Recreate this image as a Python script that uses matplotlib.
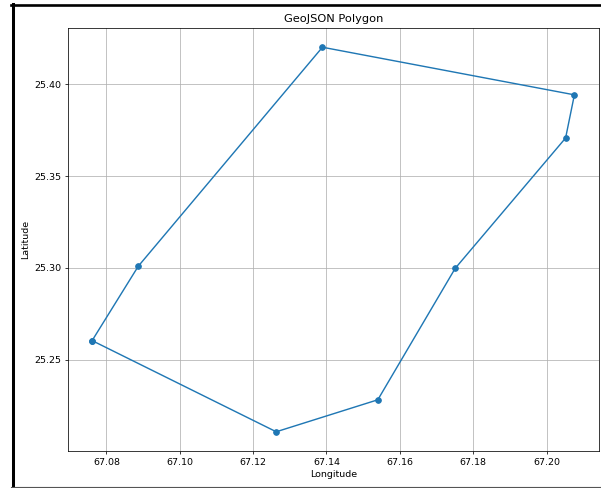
import matplotlib
matplotlib.use("Agg")
import matplotlib.pyplot as plt
from matplotlib.lines import Line2D

# polygon vertices (closed ring)
lon = [67.0761, 67.0887, 67.1389, 67.2076, 67.2052, 67.1751, 67.1540, 67.1263, 67.0761]
lat = [25.2605, 25.3010, 25.4201, 25.3942, 25.3707, 25.2998, 25.2283, 25.2109, 25.2605]

DPI = 68
fig = plt.figure(figsize=(601 / DPI, 488 / DPI), dpi=DPI)
ax = fig.add_axes([68 / 601, 37 / 488, 530.5 / 601, 423 / 488])

ax.plot(lon, lat, marker='o')
ax.set_title('GeoJSON Polygon')
ax.set_xlabel('Longitude')
ax.set_ylabel('Latitude')
ax.grid(True)

# screenshot frame
fig.add_artist(Line2D([12.5 / 601, 12.5 / 601], [0, 1 - 4 / 488], color='black', lw=3.2))
fig.add_artist(Line2D([11 / 601, 1], [1 - 5.3 / 488, 1 - 5.3 / 488], color='black', lw=2.8))
fig.add_artist(Line2D([11 / 601, 1], [1.5 / 488, 1.5 / 488], color='#555555', lw=1.2))

fig.savefig('out.png', dpi=DPI)
